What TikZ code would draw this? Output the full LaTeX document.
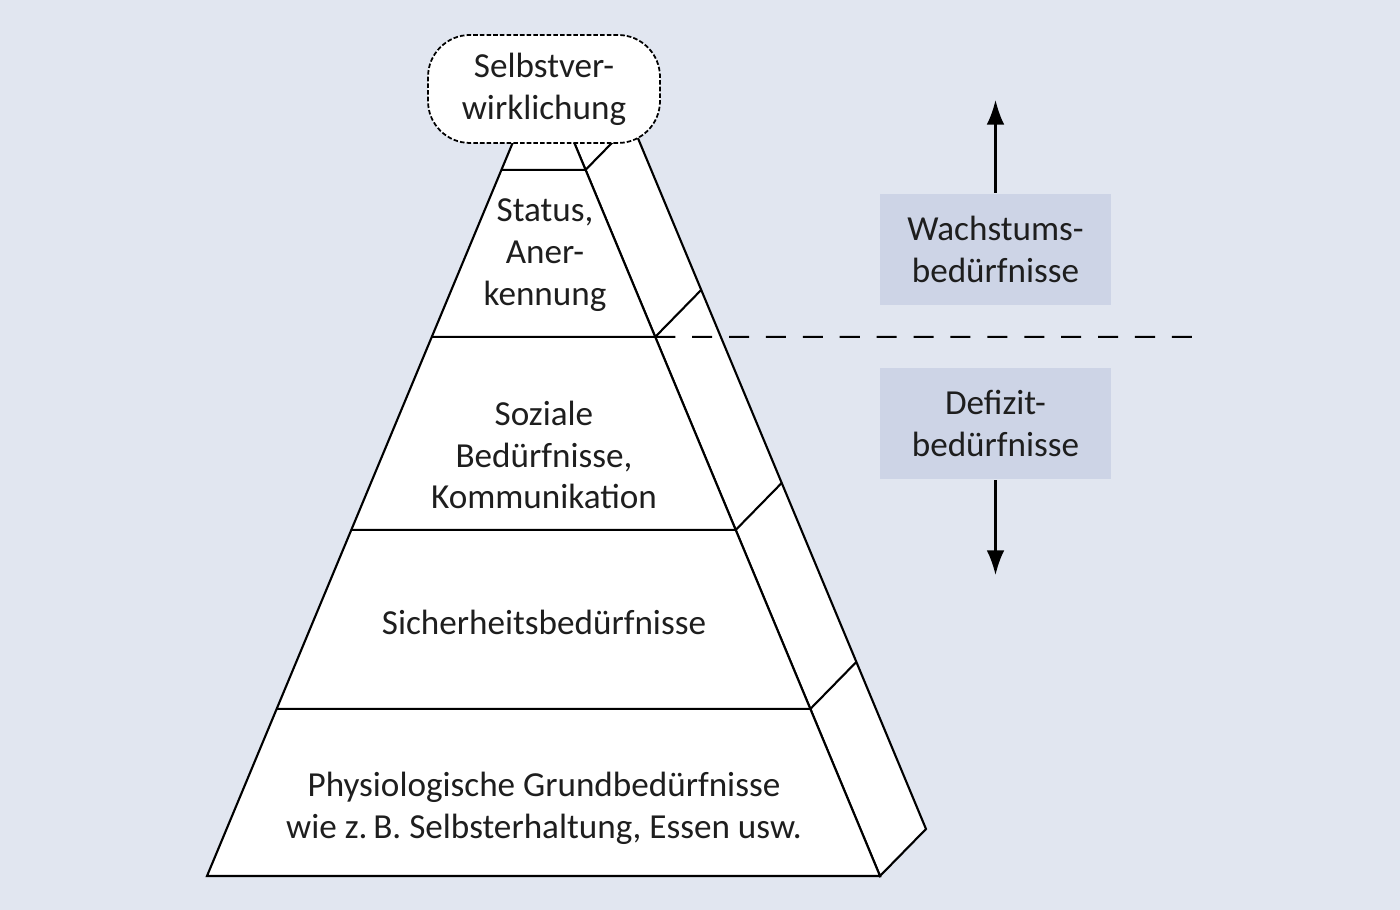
\documentclass[tikz,border=0pt]{standalone}
\usepackage{fontspec}
\setmainfont{Carlito}
\usetikzlibrary{calc,arrows.meta}
\definecolor{bgblue}{HTML}{E1E6F0}
\definecolor{boxblue}{HTML}{CDD4E6}
\definecolor{ink}{HTML}{1E1E1E}
\tikzset{
  levtext/.style={align=center, text=ink},
  needbox/.style={fill=boxblue, minimum width=2.31cm, minimum height=1.11cm,
    inner sep=0pt, align=center, text=ink},
  topcloud/.style={draw, fill=white, rounded corners=0.42cm,
    dash pattern=on 1.3pt off 0.6pt,
    line width=0.5pt, minimum width=2.32cm, minimum height=1.08cm,
    inner sep=0pt, align=center, text=ink},
  arr/.style={-{Latex[length=7pt,width=5pt]}}
}
\begin{document}
\begin{tikzpicture}[line width=0.6pt, font=\fontsize{10}{11.9}\selectfont]
\fill[bgblue] (0,0) rectangle (14,9.1);
\useasboundingbox (0,0) rectangle (14,9.1);
% corners of the pyramid
\coordinate (bl) at (2.07,0.34);
\coordinate (br) at (8.80,0.34);
\coordinate (top) at (5.435,8.41);
\coordinate (rtop) at ($(br)!0.96!(top)$);
% side face
\draw[fill=white] (br) -- ++(0.46,0.47) -- ($(rtop)+(0.46,0.47)$) -- (rtop) -- cycle;
% front face
\draw[fill=white] (bl) -- (br) -- (top) -- cycle;
% layers
\foreach \t/\n in {0.207/a,0.4288/b,0.668/c,0.875/d}{
  \coordinate (l\n) at ($(bl)!\t!(top)$);
  \coordinate (r\n) at ($(br)!\t!(top)$);
  \draw (l\n) -- (r\n) -- ++(0.46,0.47);
}
% border between the two kinds of needs
\coordinate (dend) at (12.0,5.731);
\draw[dash pattern=on 5.7pt off 4.8pt] (rc) -- (dend);
% texts of the layers
\node[levtext] (phys) at (5.44,1.02) {Physiologische Grundbedürfnisse\\wie z.\,B. Selbsterhaltung, Essen usw.};
\node[levtext] (sicher) at (5.44,2.88) {Sicherheitsbedürfnisse};
\node[levtext] (sozial) at (5.44,4.55) {Soziale\\Bedürfnisse,\\Kommunikation};
\node[levtext] (status) at (5.45,6.55) {Status,\\Aner-\\kennung};
\node[topcloud] (selbst) at (5.44,8.21) {Selbstver-\\wirklichung};
% growth and deficit
\node[needbox] (wachs) at (9.955,6.605) {Wachstums-\\bedürfnisse};
\node[needbox] (defizit) at (9.955,4.865) {Defizit-\\bedürfnisse};
\coordinate (uptip) at (9.955,8.10);
\coordinate (downtip) at (9.955,3.35);
\draw[arr] (wachs.north) -- (uptip);
\draw[arr] (defizit.south) -- (downtip);
\end{tikzpicture}
\end{document}
